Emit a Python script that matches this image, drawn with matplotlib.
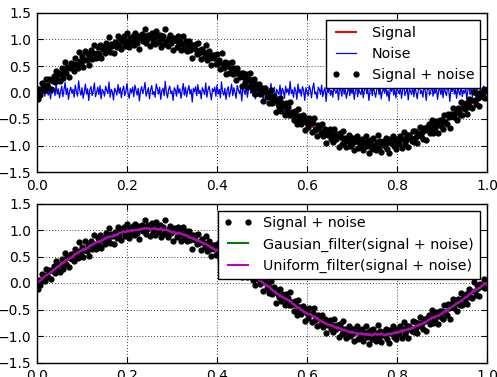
import numpy as np
import matplotlib
matplotlib.use("Agg")
import matplotlib.pyplot as plt

# ---------------- data ----------------
n_points = 401
signal = [
    0.00, 0.02, 0.03, 0.05, 0.06, 0.08, 0.09, 0.11, 0.13, 0.14,
    0.16, 0.17, 0.19, 0.20, 0.22, 0.23, 0.25, 0.26, 0.28, 0.29,
    0.31, 0.32, 0.34, 0.35, 0.37, 0.38, 0.40, 0.41, 0.43, 0.44,
    0.45, 0.47, 0.48, 0.50, 0.51, 0.52, 0.54, 0.55, 0.56, 0.58,
    0.59, 0.60, 0.61, 0.63, 0.64, 0.65, 0.66, 0.67, 0.69, 0.70,
    0.71, 0.72, 0.73, 0.74, 0.75, 0.76, 0.77, 0.78, 0.79, 0.80,
    0.81, 0.82, 0.83, 0.84, 0.84, 0.85, 0.86, 0.87, 0.88, 0.88,
    0.89, 0.90, 0.91, 0.91, 0.92, 0.92, 0.93, 0.94, 0.94, 0.95,
    0.95, 0.96, 0.96, 0.96, 0.97, 0.97, 0.98, 0.98, 0.98, 0.99,
    0.99, 0.99, 0.99, 0.99, 1.00, 1.00, 1.00, 1.00, 1.00, 1.00,
    1.00, 1.00, 1.00, 1.00, 1.00, 1.00, 1.00, 0.99, 0.99, 0.99,
    0.99, 0.99, 0.98, 0.98, 0.98, 0.97, 0.97, 0.96, 0.96, 0.96,
    0.95, 0.95, 0.94, 0.94, 0.93, 0.92, 0.92, 0.91, 0.91, 0.90,
    0.89, 0.88, 0.88, 0.87, 0.86, 0.85, 0.84, 0.84, 0.83, 0.82,
    0.81, 0.80, 0.79, 0.78, 0.77, 0.76, 0.75, 0.74, 0.73, 0.72,
    0.71, 0.70, 0.69, 0.67, 0.66, 0.65, 0.64, 0.63, 0.61, 0.60,
    0.59, 0.58, 0.56, 0.55, 0.54, 0.52, 0.51, 0.50, 0.48, 0.47,
    0.45, 0.44, 0.43, 0.41, 0.40, 0.38, 0.37, 0.35, 0.34, 0.32,
    0.31, 0.29, 0.28, 0.26, 0.25, 0.23, 0.22, 0.20, 0.19, 0.17,
    0.16, 0.14, 0.13, 0.11, 0.09, 0.08, 0.06, 0.05, 0.03, 0.02,
    0.00, -0.02, -0.03, -0.05, -0.06, -0.08, -0.09, -0.11, -0.13, -0.14,
    -0.16, -0.17, -0.19, -0.20, -0.22, -0.23, -0.25, -0.26, -0.28, -0.29,
    -0.31, -0.32, -0.34, -0.35, -0.37, -0.38, -0.40, -0.41, -0.43, -0.44,
    -0.45, -0.47, -0.48, -0.50, -0.51, -0.52, -0.54, -0.55, -0.56, -0.58,
    -0.59, -0.60, -0.61, -0.63, -0.64, -0.65, -0.66, -0.67, -0.69, -0.70,
    -0.71, -0.72, -0.73, -0.74, -0.75, -0.76, -0.77, -0.78, -0.79, -0.80,
    -0.81, -0.82, -0.83, -0.84, -0.84, -0.85, -0.86, -0.87, -0.88, -0.88,
    -0.89, -0.90, -0.91, -0.91, -0.92, -0.92, -0.93, -0.94, -0.94, -0.95,
    -0.95, -0.96, -0.96, -0.96, -0.97, -0.97, -0.98, -0.98, -0.98, -0.99,
    -0.99, -0.99, -0.99, -0.99, -1.00, -1.00, -1.00, -1.00, -1.00, -1.00,
    -1.00, -1.00, -1.00, -1.00, -1.00, -1.00, -1.00, -0.99, -0.99, -0.99,
    -0.99, -0.99, -0.98, -0.98, -0.98, -0.97, -0.97, -0.96, -0.96, -0.96,
    -0.95, -0.95, -0.94, -0.94, -0.93, -0.92, -0.92, -0.91, -0.91, -0.90,
    -0.89, -0.88, -0.88, -0.87, -0.86, -0.85, -0.84, -0.84, -0.83, -0.82,
    -0.81, -0.80, -0.79, -0.78, -0.77, -0.76, -0.75, -0.74, -0.73, -0.72,
    -0.71, -0.70, -0.69, -0.67, -0.66, -0.65, -0.64, -0.63, -0.61, -0.60,
    -0.59, -0.58, -0.56, -0.55, -0.54, -0.52, -0.51, -0.50, -0.48, -0.47,
    -0.45, -0.44, -0.43, -0.41, -0.40, -0.38, -0.37, -0.35, -0.34, -0.32,
    -0.31, -0.29, -0.28, -0.26, -0.25, -0.23, -0.22, -0.20, -0.19, -0.17,
    -0.16, -0.14, -0.13, -0.11, -0.09, -0.08, -0.06, -0.05, -0.03, -0.02,
    0.00,
]
noise = [
    0.06, -0.14, 0.03, -0.09, 0.11, -0.02, 0.05, -0.07, 0.13, 0.01,
    -0.05, 0.08, -0.12, 0.04, 0.00, 0.09, -0.06, 0.15, -0.03, 0.07,
    -0.10, 0.02, 0.12, -0.08, 0.05, 0.19, -0.04, 0.08, -0.13, 0.03,
    0.10, -0.01, 0.06, -0.09, 0.14, 0.02, -0.07, 0.22, 0.04, -0.05,
    0.09, -0.11, 0.01, 0.16, -0.03, 0.07, -0.15, 0.05, 0.11, -0.06,
    0.03, 0.18, -0.08, 0.00, 0.10, -0.04, 0.13, -0.12, 0.06, 0.02,
    -0.07, 0.12, 0.04, -0.02, 0.20, -0.09, 0.06, 0.01, -0.14, 0.08,
    0.03, -0.05, 0.15, -0.01, 0.09, -0.10, 0.05, 0.12, -0.06, 0.02,
    0.17, -0.03, -0.11, 0.07, 0.00, 0.10, -0.08, 0.14, 0.04, -0.05,
    0.08, -0.16, 0.03, 0.11, -0.02, 0.06, 0.19, -0.07, 0.01, 0.09,
    -0.12, 0.05, 0.13, -0.04, 0.02, -0.09, 0.16, 0.07, -0.03, 0.10,
    -0.13, 0.04, 0.08, -0.06, 0.21, 0.00, -0.10, 0.06, 0.12, -0.02,
    0.03, -0.15, 0.09, 0.05, -0.07, 0.14, -0.01, 0.07, -0.11, 0.02,
    0.17, -0.05, 0.10, -0.08, 0.04, 0.13, -0.03, 0.06, -0.18, 0.08,
    0.01, 0.11, -0.06, 0.15, -0.02, 0.04, -0.12, 0.09, 0.03, -0.04,
    0.18, -0.09, 0.05, 0.12, -0.01, -0.14, 0.07, 0.02, 0.10, -0.07,
    0.14, -0.03, 0.06, -0.10, 0.20, 0.01, -0.05, 0.08, -0.13, 0.04,
    0.11, -0.08, 0.03, 0.16, -0.06, 0.09, 0.00, -0.11, 0.13, 0.05,
    -0.02, 0.07, -0.16, 0.10, 0.04, -0.04, 0.12, -0.09, 0.06, 0.19,
    -0.01, 0.03, -0.07, 0.15, -0.12, 0.08, 0.02, 0.11, -0.05, 0.00,
    0.09, -0.14, 0.05, 0.13, -0.03, 0.07, -0.10, 0.02, 0.17, -0.06,
    0.04, 0.10, -0.18, 0.06, 0.01, -0.04, 0.14, -0.08, 0.08, 0.03,
    -0.11, 0.12, 0.00, 0.07, -0.05, 0.21, -0.02, 0.05, -0.09, 0.10,
    0.03, -0.13, 0.16, -0.01, 0.06, -0.07, 0.11, 0.04, -0.15, 0.09,
    0.02, -0.06, 0.13, 0.05, -0.10, 0.08, 0.18, -0.03, 0.01, -0.12,
    0.10, 0.06, -0.04, 0.14, -0.08, 0.03, 0.09, -0.17, 0.07, 0.00,
    0.12, -0.05, 0.04, -0.09, 0.16, 0.02, -0.01, 0.08, -0.14, 0.11,
    0.05, -0.07, 0.19, -0.03, 0.06, -0.11, 0.01, 0.13, -0.06, 0.09,
    -0.02, 0.10, -0.13, 0.04, 0.15, -0.08, 0.07, 0.00, -0.04, 0.12,
    -0.10, 0.05, 0.17, -0.02, 0.08, -0.15, 0.03, 0.11, -0.06, 0.14,
    0.01, -0.09, 0.06, 0.20, -0.04, 0.09, -0.12, 0.03, 0.07, -0.01,
    0.13, -0.07, 0.04, -0.16, 0.10, 0.02, 0.15, -0.05, 0.06, -0.10,
    0.08, 0.03, -0.03, 0.12, -0.11, 0.05, 0.18, -0.06, 0.01, 0.09,
    -0.14, 0.07, 0.02, -0.04, 0.14, -0.08, 0.11, 0.00, -0.12, 0.06,
    0.16, -0.02, 0.04, -0.09, 0.10, 0.05, -0.15, 0.08, 0.13, -0.05,
    0.02, 0.19, -0.07, 0.06, -0.01, 0.11, -0.13, 0.03, 0.09, -0.04,
    0.07, -0.10, 0.14, 0.00, -0.06, 0.12, 0.04, -0.17, 0.08, 0.02,
    0.15, -0.03, 0.06, -0.11, 0.10, 0.01, -0.05, 0.17, -0.08, 0.04,
    -0.01, 0.09, -0.12, 0.05, 0.13, -0.04, 0.07, -0.09, 0.20, 0.02,
    -0.06, 0.11, 0.03, -0.14, 0.08, 0.05, -0.02, 0.12, -0.07, 0.06,
    0.03,
]
x = np.linspace(0, 1, n_points)
signal = np.array(signal)
noise = np.array(noise)
noisy = signal + noise

y_ticks = [-1.5, -1.0, -0.5, 0.0, 0.5, 1.0, 1.5]
x_ticks = [0.0, 0.2, 0.4, 0.6, 0.8, 1.0]


def gaussian_filter(y, sigma):
    r = int(4 * sigma + 0.5)
    t = np.arange(-r, r + 1)
    k = np.exp(-0.5 * (t / sigma) ** 2)
    k /= k.sum()
    yp = np.pad(y, r, mode="symmetric")
    return np.convolve(yp, k, mode="valid")


def uniform_filter(y, size):
    r = size // 2
    k = np.ones(size) / size
    yp = np.pad(y, r, mode="symmetric")
    return np.convolve(yp, k, mode="valid")


gauss = gaussian_filter(noisy, 2.5)
unif = uniform_filter(noisy, 9)

# ---------------- style ----------------
plt.rcParams.update({
    "font.family": "DejaVu Sans",
    "font.size": 10,
    "xtick.direction": "in",
    "ytick.direction": "in",
    "xtick.top": True,
    "ytick.right": True,
    "xtick.major.size": 4,
    "ytick.major.size": 4,
    "xtick.major.pad": 5,
    "ytick.major.pad": 4,
    "axes.linewidth": 1.0,
})

fig = plt.figure(figsize=(4.97, 3.77), dpi=100)
fig.patch.set_facecolor("white")

ax1 = fig.add_axes([37 / 497, 1 - 172 / 377, 450 / 497, 159 / 377])
ax2 = fig.add_axes([37 / 497, 1 - 362.5 / 377, 450 / 497, 159 / 377])


def style(ax):
    ax.set_xlim(0, 1)
    ax.set_ylim(-1.5, 1.5)
    ax.set_xticks(x_ticks)
    ax.set_yticks(y_ticks)
    ax.grid(True, color="black", linestyle=(0, (1, 2.5)), linewidth=0.6)
    ax.tick_params(labelsize=10)


ax1.plot(x, signal, color="red", linewidth=1.5, label="Signal")
ax1.plot(x, noise, color="blue", linewidth=0.9, label="Noise")
ax1.plot(x, noisy, "k.", markersize=7, label="Signal + noise")
style(ax1)
leg1 = ax1.legend(loc="upper right", numpoints=2, fancybox=False, framealpha=1,
                  edgecolor="black", fontsize=10.25, borderaxespad=0.5,
                  handlelength=2.0)
leg1.get_frame().set_linewidth(1.0)

ax2.plot(x, noisy, "k.", markersize=7, label="Signal + noise")
ax2.plot(x, gauss, color="green", linewidth=1.5, label="Gausian_filter(signal + noise)")
ax2.plot(x, unif, color="m", linewidth=1.5, label="Uniform_filter(signal + noise)")
style(ax2)
leg2 = ax2.legend(loc="upper right", numpoints=2, fancybox=False, framealpha=1,
                  edgecolor="black", fontsize=10.25, borderaxespad=0.5,
                  handlelength=2.0)
leg2.get_frame().set_linewidth(1.0)

fig.savefig("out.png", dpi=100, facecolor="white")
